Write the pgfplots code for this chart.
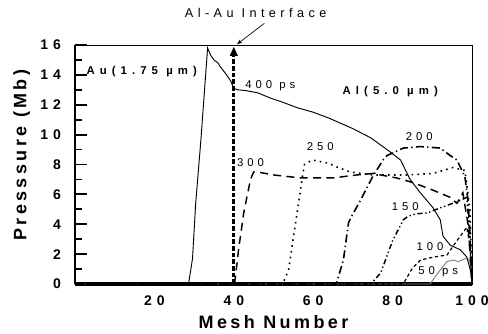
\documentclass[border=0pt]{standalone}
\usepackage{fontspec}
\usepackage{pgfplots}
\pgfplotsset{compat=1.18}
\usetikzlibrary{arrows.meta}
\newfontfamily\tickf[LetterSpace=35]{Liberation Sans}
\newfontfamily\labf[LetterSpace=19]{Liberation Sans}
\newfontfamily\annf[LetterSpace=35]{Liberation Sans}
\newfontfamily\matf[LetterSpace=45]{Liberation Sans}
\begin{document}
\begin{tikzpicture}
\begin{axis}[
  scale only axis, width=297.75pt, height=179.25pt,
  xmin=0, xmax=100, ymin=0, ymax=16,
  xtick={20,40,60,80,100}, xticklabels={20,40,60,80,100},
  ytick={0,2,...,16}, yticklabels={0,2,4,6,8,10,12,14,16},
  minor ytick={1,3,...,15},
  ytick pos=left, xtick pos=bottom,
  tick align=inside,
  major tick length=9pt, minor tick length=5pt,
  major x tick style={draw=none},
  y tick style={line width=1.4pt, black},
  yticklabel style={font=\fontsize{10.5}{12}\tickf\bfseries, xshift=-7pt},
  xticklabel style={font=\fontsize{10.5}{12}\tickf\bfseries, yshift=-5pt},
  axis line style={line width=0.6pt},
  xlabel={Mesh Number},
  xlabel style={font=\fontsize{13.5}{15}\labf\bfseries, at={(rel axis cs:0.5,0)}, anchor=center, yshift=-28.5pt},
  clip=false,
]
% thick left and bottom axis lines
\draw[line width=2pt] (rel axis cs:0,0) -- (rel axis cs:0,1);
\draw[line width=2.5pt] (rel axis cs:0,0) -- (rel axis cs:1,0);

% 50 ps (gray)
\addplot[gray, line width=0.7pt] coordinates {(0,0) (89.4,0) (92,0.94) (93.7,1.5) (95.3,1.6) (96.5,1.5) (98.7,1.74) (99.5,1.5) (100,0)};
% 100 ps (short dashed)
\addplot[black, line width=0.9pt, dash pattern=on 2.5pt off 2pt] coordinates {(0,0) (82,0) (83,0.15) (85,1.07) (87,1.6) (90.2,1.8) (93.7,1.94) (96.2,2.9) (98.7,3.8) (99.5,2.5) (100,0)};
% 150 ps (dash dot dot)
\addplot[black, line width=1.1pt, dash pattern=on 4pt off 2pt on 1pt off 2pt on 1pt off 2pt] coordinates {(0,0) (74.5,0) (77,0.74) (80,2.9) (82.7,4.3) (84,4.55) (86,4.7) (88.7,4.75) (92,5.1) (96.2,5.5) (98.7,5.8) (99.5,3) (100,0)};
% 200 ps (dash dot)
\addplot[black, line width=1.2pt, dash pattern=on 6pt off 2.5pt on 1pt off 2.5pt] coordinates {(0,0) (65.8,0) (67.6,1.6) (68.9,4.1) (69.6,4.5) (71.9,5.6) (75,7.2) (77.6,8.3) (78.6,8.6) (82.7,9.1) (87,9.2) (92,9.1) (94.5,8.6) (96.2,8.3) (98.2,7.2) (99,5.6) (99.5,3.4) (100,0)};
% 250 ps (dotted)
\addplot[black, line width=1.2pt, dash pattern=on 1.2pt off 3.2pt] coordinates {(0,0) (52.3,0) (53.8,0.94) (55,3.1) (56.3,5.4) (57.3,7.2) (57.8,8.0) (59.8,8.3) (63.6,8.1) (66.3,7.8) (69.3,7.5) (75,7.3) (83.7,7.3) (90.2,7.4) (95.2,7.8) (98.2,7.6) (99.5,5) (100,0)};
% 300 ps (long dashed)
\addplot[black, line width=1.1pt, dash pattern=on 6pt off 4pt] coordinates {(0,0) (40.2,0) (41.2,2.3) (42.5,4.75) (44.2,7.0) (45,7.5) (47,7.45) (50,7.3) (56.8,7.1) (65,7.1) (71,7.3) (75,7.4) (81,7.1) (85,6.8) (90,6.3) (94.5,5.8) (96.2,5.4) (97.7,6.1) (99,4) (100,0)};
% 400 ps (solid)
\addplot[black, line width=0.7pt] coordinates {(0,0) (28.6,0) (29.6,1.7) (30.4,5.4) (31.7,9.6) (33.4,15.8) (34.2,15.3) (35,15.0) (36,14.8) (36.7,14.5) (37.9,14.1) (39.2,13.6) (40,13.1) (41,13.0) (43,12.95) (46,12.8) (49.2,12.45) (52,12.2) (56,11.8) (60,11.5) (64,11.1) (70,10.4) (74.4,9.8) (78.6,9.0) (82,8.3) (84.4,7.0) (87,6.1) (90.2,5.1) (92,4.3) (92.7,3.2) (94.5,2.6) (97,2.3) (98.7,1.8) (100,0.5) (100,0)};
% interface
\addplot[black, line width=2pt, dash pattern=on 3.5pt off 1.5pt, -{Triangle[length=7pt,width=5.5pt]}] coordinates {(40,0) (40,15.9)};

\node[rotate=90, font=\fontsize{13.5}{15}\labf\bfseries] at ([xshift=-40pt,yshift=7pt]rel axis cs:0,0.5) {Presssure (Mb)};
\node[font=\fontsize{9.5}{11}\annf] at (axis cs:45.5,18.14) {Al-Au Interface};
\draw[-{Stealth[length=4pt]}, line width=0.5pt] (axis cs:47.7,17.45) -- (axis cs:40.8,16.05);
\node[font=\fontsize{8.5}{10}\matf\bfseries] at (axis cs:16.8,14.2) {Au(1.75 µm)};
\node[font=\fontsize{8.5}{10}\matf\bfseries] at (axis cs:79.4,12.85) {Al(5.0 µm)};
\node[font=\fontsize{8.5}{10}\annf] at (axis cs:49.2,13.25) {400 ps};
\node[font=\fontsize{8.5}{10}\annf] at (axis cs:44.2,8.1) {300};
\node[font=\fontsize{8.5}{10}\annf] at (axis cs:61.8,9.17) {250};
\node[font=\fontsize{8.5}{10}\annf] at (axis cs:86.7,9.84) {200};
\node[font=\fontsize{8.5}{10}\annf] at (axis cs:83.2,5.15) {150};
\node[font=\fontsize{8.5}{10}\annf] at (axis cs:89.4,2.48) {100};
\node[font=\fontsize{8.5}{10}\annf] at (axis cs:91.5,0.8) {50 ps};
\end{axis}
\pgfresetboundingbox
\path[use as bounding box] ([xshift=-56.25pt,yshift=-37.5pt]current axis.south west) rectangle ([xshift=309.75pt,yshift=213pt]current axis.south west);
\end{tikzpicture}
\end{document}
